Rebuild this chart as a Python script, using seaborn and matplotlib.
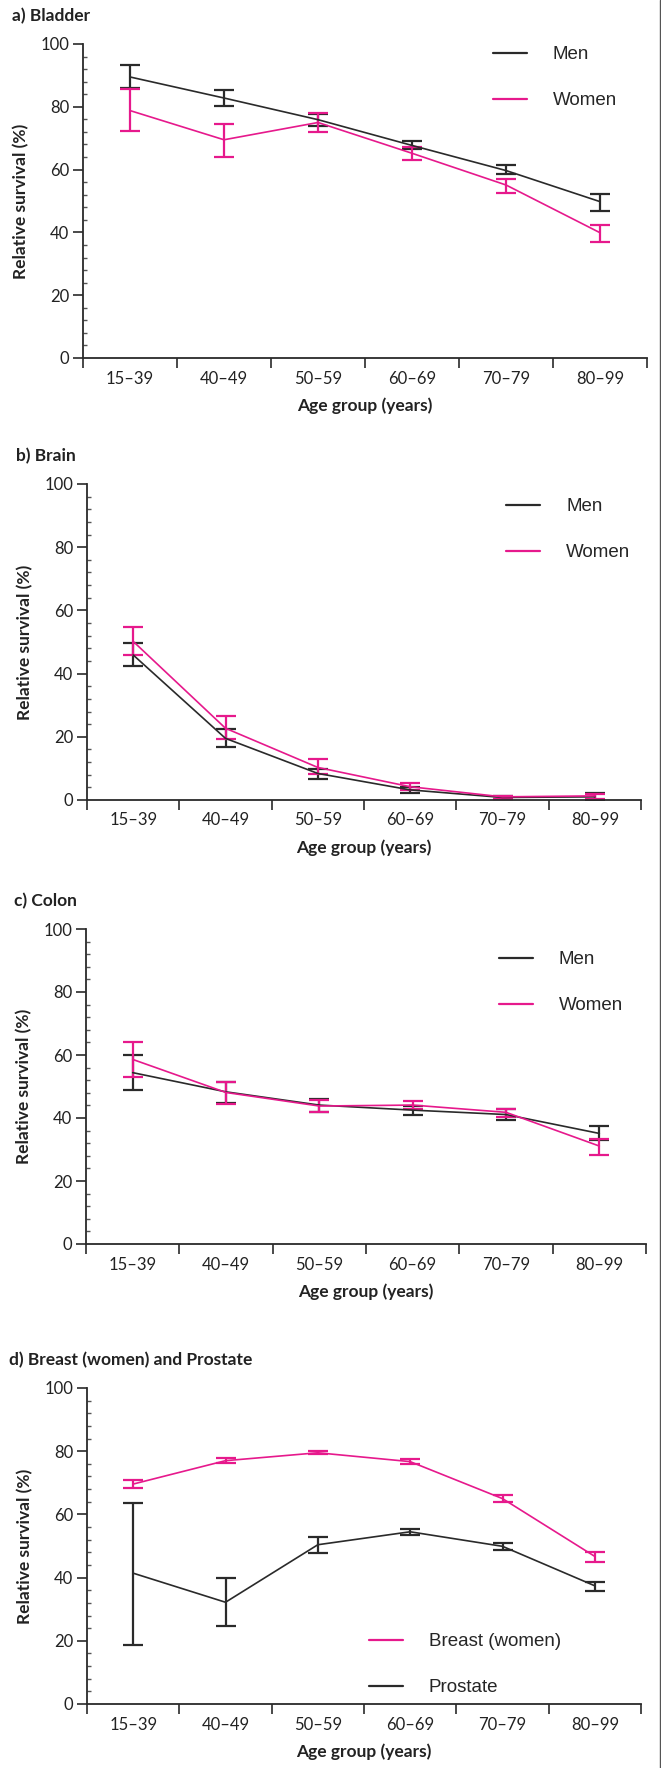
import numpy as np
import pandas as pd
import matplotlib
matplotlib.use("Agg")
import matplotlib.pyplot as plt
import seaborn as sns
from matplotlib.lines import Line2D
from matplotlib.ticker import MultipleLocator

# ---------------- data ----------------
age_groups = ["15–39", "40–49", "50–59", "60–69", "70–79", "80–99"]

bladder_men = [89.5, 82.8, 75.9, 67.7, 59.7, 49.8]
bladder_men_lo = [86.0, 80.1, 73.9, 66.6, 58.5, 46.9]
bladder_men_hi = [93.2, 85.3, 77.8, 69.1, 61.5, 52.3]
bladder_women = [78.8, 69.5, 75.0, 65.2, 55.1, 39.9]
bladder_women_lo = [72.2, 64.0, 72.0, 62.9, 52.7, 36.8]
bladder_women_hi = [85.6, 74.6, 78.1, 67.3, 56.9, 42.4]

brain_men = [45.9, 19.5, 8.4, 3.2, 0.8, 1.0]
brain_men_lo = [42.4, 16.8, 6.7, 2.3, 0.4, 0.0]
brain_men_hi = [49.8, 22.6, 9.7, 4.0, 1.3, 2.3]
brain_women = [50.2, 22.7, 10.3, 4.2, 1.0, 1.3]
brain_women_lo = [45.9, 19.3, 8.3, 3.2, 0.4, 0.4]
brain_women_hi = [54.7, 26.6, 12.9, 5.3, 1.4, 1.8]

colon_men = [54.4, 48.3, 44.1, 42.5, 41.1, 35.1]
colon_men_lo = [48.8, 44.9, 42.0, 41.1, 39.5, 33.0]
colon_men_hi = [59.9, 51.3, 46.0, 43.8, 42.8, 37.5]
colon_women = [58.6, 48.1, 43.8, 44.1, 41.8, 31.1]
colon_women_lo = [53.1, 44.6, 41.8, 42.7, 40.2, 28.4]
colon_women_hi = [64.2, 51.4, 45.7, 45.5, 43.0, 33.3]

breast = [69.6, 77.0, 79.5, 76.7, 65.0, 46.7]
breast_lo = [68.2, 76.4, 79.0, 76.1, 64.0, 45.0]
breast_hi = [70.8, 77.7, 80.2, 77.5, 66.1, 48.1]
prostate = [41.4, 32.2, 50.4, 54.5, 49.9, 37.4]
prostate_lo = [18.8, 24.6, 47.8, 53.4, 48.8, 35.7]
prostate_hi = [63.7, 39.8, 52.7, 55.5, 50.8, 38.6]

panel_titles = ["a) Bladder", "b) Brain", "c) Colon", "d) Breast (women) and Prostate"]
y_ticks = [0, 20, 40, 60, 80, 100]

# ---------------- style ----------------
sns.set_theme(style="white")
plt.rcParams["font.family"] = ["Lato", "DejaVu Sans"]

BLACK = "#2a2a2a"
PINK = "#E6198C"
W, H = 661, 1768

fig = plt.figure(figsize=(W / 100, H / 100), dpi=100)

# axes boxes in pixels: left, right, top(y=100), bottom(y=0)
boxes = [(83, 647, 44, 358), (87, 641, 484, 800), (86, 646, 929, 1244), (87, 641, 1388, 1704)]
title_pos = [(12, 16), (16, 456), (14, 901), (9, 1360)]
legend_pos = [(493, 46), (506, 498), (499, 951), (369, 1633)]

panels = [
    [("Men", BLACK, bladder_men, bladder_men_lo, bladder_men_hi),
     ("Women", PINK, bladder_women, bladder_women_lo, bladder_women_hi)],
    [("Men", BLACK, brain_men, brain_men_lo, brain_men_hi),
     ("Women", PINK, brain_women, brain_women_lo, brain_women_hi)],
    [("Men", BLACK, colon_men, colon_men_lo, colon_men_hi),
     ("Women", PINK, colon_women, colon_women_lo, colon_women_hi)],
    [("Breast (women)", PINK, breast, breast_lo, breast_hi),
     ("Prostate", BLACK, prostate, prostate_lo, prostate_hi)],
]

for i, (box, series) in enumerate(zip(boxes, panels)):
    l, r, t, b = box
    ax = fig.add_axes([l / W, 1 - b / H, (r - l) / W, (b - t) / H])
    x = np.arange(len(age_groups))
    handles = []
    for name, col, vals, lo, hi in series:
        df = pd.DataFrame({"x": x, "y": vals})
        sns.lineplot(data=df, x="x", y="y", ax=ax, color=col, linewidth=1.2,
                     legend=False, zorder=3)
        v = np.array(vals); lo_a = np.array(lo); hi_a = np.array(hi)
        ax.errorbar(x, v, yerr=[v - lo_a, hi_a - v], fmt="none", ecolor=col,
                    elinewidth=1.6, capsize=7.5, capthick=1.6, zorder=2)
        handles.append(Line2D([], [], color=col, linewidth=1.6))
    ax.set_xlim(-0.5, len(age_groups) - 0.5)
    ax.set_ylim(0, 100)
    ax.set_xticks(np.arange(-0.5, len(age_groups), 1.0))
    ax.set_xticklabels([])
    ax.set_xticks(x, minor=True)
    ax.set_xticklabels(age_groups, minor=True, fontsize=12, color="#222222")
    ax.tick_params(axis="x", which="major", length=7, width=1.2, direction="out",
                   color=BLACK, bottom=True)
    ax.tick_params(axis="x", which="minor", length=0, pad=9, bottom=True)
    ax.set_yticks(y_ticks)
    ax.set_yticklabels([str(v) for v in y_ticks], fontsize=12, color="#222222")
    ax.yaxis.set_minor_locator(MultipleLocator(4))
    ax.tick_params(axis="y", which="major", length=7, width=1.2, direction="out",
                   color=BLACK, left=True, pad=3)
    ax.tick_params(axis="y", which="minor", length=3, width=1.0, direction="in",
                   color="#555555", left=True)
    for s in ["top", "right"]:
        ax.spines[s].set_visible(False)
    for s in ["left", "bottom"]:
        ax.spines[s].set_color(BLACK)
        ax.spines[s].set_linewidth(1.3)
    ax.set_xlabel("Age group (years)", fontsize=12.5, fontweight="bold", labelpad=8,
                  color="#222222")
    ax.set_ylabel("Relative survival (%)", fontsize=12.5, fontweight="bold", labelpad=8,
                  color="#222222")
    ax.grid(False)
    lx, ly = legend_pos[i]
    ax.legend(handles, [s[0] for s in series], loc="upper left",
              bbox_to_anchor=(lx / W, 1 - ly / H), bbox_transform=fig.transFigure,
              frameon=False, borderpad=0, borderaxespad=0, handlelength=1.8,
              handletextpad=1.4, labelspacing=1.55,
              prop={"family": "Liberation Sans", "size": 13.5})
    tx, ty = title_pos[i]
    fig.text(tx / W, 1 - ty / H, panel_titles[i], fontsize=12.5, fontweight="bold",
             ha="left", va="center", color="#222222")

fig.add_artist(Line2D([659.5 / W, 659.5 / W], [0, 1], transform=fig.transFigure,
                      color="#555555", linewidth=1.0))

fig.savefig("out.png", dpi=100)
